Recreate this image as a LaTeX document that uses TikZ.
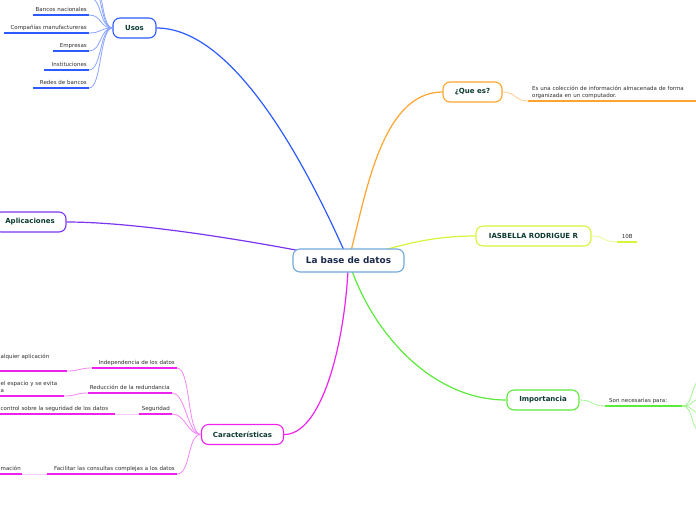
\documentclass[tikz,border=0pt]{standalone}
\usepackage{fontspec}
\setmainfont{DejaVu Sans}
\usetikzlibrary{backgrounds}
\definecolor{rootline}{HTML}{6FA8DC}
\definecolor{roottext}{HTML}{1B2B4B}
\definecolor{titletext}{HTML}{0C3A30}
\definecolor{leaftext}{HTML}{2E2E2E}
\definecolor{mmblue}{HTML}{2D5BFF}
\definecolor{mmorange}{HTML}{FFA52F}
\definecolor{mmlime}{HTML}{D5F53A}
\definecolor{mmgreen}{HTML}{5CEB3C}
\definecolor{mmpurple}{HTML}{7B35F0}
\definecolor{mmpink}{HTML}{EE22EE}
\newcommand\leaffont{\fontsize{5.5}{7.5}\selectfont}
\newcommand\topicfont{\fontsize{7}{8}\selectfont\bfseries}
\newcommand\rootfont{\fontsize{8.9}{10}\selectfont\bfseries}

\begin{document}
\begin{tikzpicture}[x=1pt, y=-1pt, topic/.style={draw=#1, line width=1.1pt, rounded corners=7pt, fill=white, text=titletext, font=\topicfont, minimum height=20pt, inner sep=0pt}, leaf/.style={text=leaftext, font=\leaffont, inner xsep=2pt, inner ysep=2pt, text depth=1.2pt}, uline/.style={line width=1.8pt, draw=#1}, branch/.style={line width=1.2pt, draw=#1}, twig/.style={line width=0.8pt, draw=#1!55}]
	\useasboundingbox (0,0) rectangle (696,520);
	\node[topic=rootline, minimum width=111pt, minimum height=23pt, text=roottext, font=\rootfont] (root) at (348.5,260.5) {La base de datos};
	\node[topic=mmblue, minimum width=43pt] (usos) at (134.5,28) {Usos};
	\node[topic=mmorange, minimum width=59pt] (quees) at (472.5,92) {¿Que es?};
	\node[topic=mmlime, minimum width=115pt] (ias) at (533.5,236) {IASBELLA RODRIGUE R};
	\node[topic=mmgreen, minimum width=72pt] (imp) at (543,400) {Importancia};
	\node[topic=mmpurple, minimum width=72pt] (aplic) at (30,222) {Aplicaciones};
	\node[topic=mmpink, minimum width=82pt] (car) at (242.5,434.5) {Características};
	\node[leaf, text width=52pt, align=right, anchor=south east] (bn) at (89,15) {Bancos nacionales};
	\node[leaf, text width=81pt, align=right, anchor=south east] (cm) at (89,33) {Compañías manufactureras};
	\node[leaf, text width=32pt, align=right, anchor=south east] (em) at (89,51) {Empresas};
	\node[leaf, text width=41pt, align=right, anchor=south east] (ins) at (89,70) {Instituciones};
	\node[leaf, text width=52pt, align=right, anchor=south east] (rb) at (89,88) {Redes de bancos};
	\coordinate (u1) at (89,-3);
	\coordinate (u2) at (89,-21);
	\coordinate (u3) at (89,-39);
	\node[leaf, text width=170pt, align=left, inner xsep=4pt, text depth=8.7pt, anchor=south west] (qdef) at (528,101) {Es una colección de información almacenada de forma\\organizada en un computador.};
	\node[leaf, text width=16pt, align=center, anchor=south west] (tenb) at (617,242) {10B};
	\node[leaf, text width=69pt, align=left, inner xsep=4pt, anchor=south west] (son) at (605,406) {Son necesarias para:};
	\coordinate (s1) at (702,380);
	\coordinate (s2) at (702,399);
	\coordinate (s3) at (702,413);
	\coordinate (s4) at (702,432);
	\node[leaf, text width=81pt, align=right, anchor=south east] (ind) at (177,368) {Independencia de los datos};
	\node[leaf, text width=80pt, align=right, anchor=south east] (red) at (172,393) {Reducción de la redundancia};
	\node[leaf, text width=29pt, align=right, anchor=south east] (seg) at (172,414) {Seguridad};
	\node[leaf, text width=126pt, align=right, anchor=south east] (fac) at (177,474) {Facilitar las consultas complejas a los datos};
	\node[leaf, text width=66pt, align=left, inner xsep=0.5pt, text depth=10pt, anchor=south west] (g1) at (0,371) {alquier aplicación};
	\node[leaf, text width=63pt, align=left, inner xsep=0.5pt, text depth=8.7pt, anchor=south west] (g2) at (0,396) {el espacio y se evita\\a};
	\node[leaf, text width=114pt, align=left, inner xsep=0.5pt, anchor=south west] (g3) at (0,414) {control sobre la seguridad de los datos};
	\node[leaf, text width=21pt, align=left, inner xsep=0.5pt, anchor=south west] (g4) at (0,474) {mación};
	\foreach \n/\c in {bn/mmblue, cm/mmblue, em/mmblue, ins/mmblue, rb/mmblue, qdef/mmorange, tenb/mmlime, son/mmgreen, ind/mmpink, red/mmpink, seg/mmpink, fac/mmpink, g1/mmpink, g2/mmpink, g3/mmpink, g4/mmpink}
		\draw[uline=\c] (\n.south west) -- (\n.south east);
	\foreach \n in {u1, u2, u3, bn.south east, cm.south east, em.south east, ins.south east, rb.south east}
		\draw[twig=mmblue] (usos.west) .. controls +(-13,0) and +(13,0) .. (\n);
	\foreach \n in {ind, red, seg, fac}
		\draw[twig=mmpink] (car.west) .. controls +(-14,0) and +(14,0) .. (\n.south east);
	\draw[twig=mmpink] (ind.south west) .. controls +(-12,0) and +(12,0) .. (g1.south east);
	\draw[twig=mmpink] (red.south west) .. controls +(-12,0) and +(12,0) .. (g2.south east);
	\draw[twig=mmpink, draw=mmpink!25] (seg.south west) -- (g3.south east);
	\draw[twig=mmpink, draw=mmpink!25] (fac.south west) -- (g4.south east);
	\draw[twig=mmorange] (quees.east) .. controls +(14,0) and +(-14,0) .. (qdef.south west);
	\draw[twig=mmlime] (ias.east) .. controls +(14,0) and +(-14,0) .. (tenb.south west);
	\draw[twig=mmgreen] (imp.east) .. controls +(14,0) and +(-14,0) .. (son.south west);
	\foreach \n in {s1, s2, s3, s4}
		\draw[twig=mmgreen] (son.south east) .. controls +(12,0) and +(-12,0) .. (\n);
	\begin{pgfonlayer}{background}
		\fill[white] (0,0) rectangle (696,520);
		\draw[branch=mmblue] (root.center) .. controls (300,150) and (230,28) .. (usos.east);
		\draw[branch=mmorange] (root.center) .. controls (365,200) and (380,92) .. (quees.west);
		\draw[branch=mmlime] (root.center) .. controls (400,245) and (430,236) .. (ias.west);
		\draw[branch=mmgreen] (root.center) .. controls (370,330) and (430,400) .. (imp.west);
		\draw[branch=mmpurple] (root.center) .. controls (290,248) and (150,222) .. (aplic.east);
		\draw[branch=mmpink] (root.center) .. controls (345,350) and (320,435) .. (car.east);
	\end{pgfonlayer}
\end{tikzpicture}
\end{document}
